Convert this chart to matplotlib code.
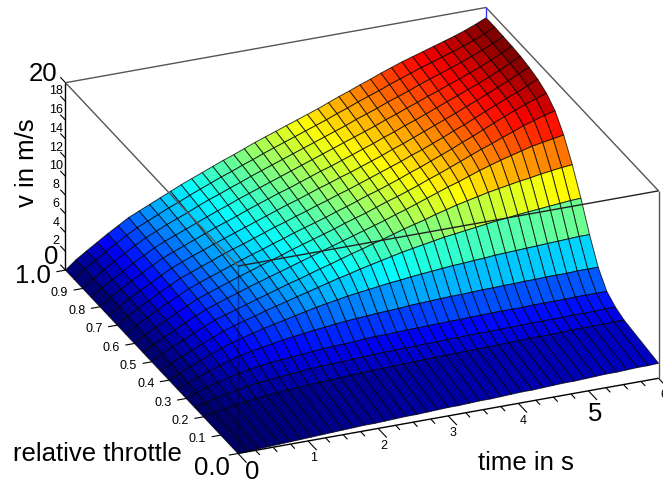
import numpy as np
from matplotlib import pyplot as plt
from matplotlib.colors import Normalize, LinearSegmentedColormap
from mpl_toolkits.mplot3d import proj3d

plt.rcParams['font.family'] = ['Liberation Sans', 'DejaVu Sans']

# data
time_s = [0, .15, .3, .45, .6, .75, .9, 1.05, 1.2, 1.35,
          1.5, 1.65, 1.8, 1.95, 2.1, 2.25, 2.4, 2.55, 2.7, 2.85,
          3, 3.15, 3.3, 3.45, 3.6, 3.75, 3.9, 4.05, 4.2, 4.35,
          4.5, 4.65, 4.8, 4.95, 5.1, 5.25, 5.4, 5.55, 5.7, 5.85, 6]
throttle = [0, .2, .25, .3, .35, .4, .45, .5, .55, .6, .65, .7, .75, .8, .85, .9, .95, 1]
speed = [
    [0, .05, .1, .15, .2, .25, .3, .35, .4, .45,
     .5, .55, .6, .6, .65, .7, .75, .75, .8, .85,
     .9, .9, .95, 1.0, 1.0, 1.05, 1.1, 1.15, 1.15, 1.2,
     1.25, 1.3, 1.3, 1.35, 1.4, 1.45, 1.45, 1.5, 1.55, 1.55, 1.6],
    [0, .25, .43, .63, .8, .93, 1.05, 1.15, 1.25, 1.3,
     1.4, 1.45, 1.5, 1.55, 1.6, 1.65, 1.7, 1.75, 1.8, 1.8,
     1.85, 1.9, 1.9, 1.95, 1.95, 2.0, 2.0, 2.05, 2.05, 2.1,
     2.1, 2.15, 2.15, 2.15, 2.2, 2.2, 2.25, 2.25, 2.25, 2.3, 2.3],
    [0, .3, .6, .85, 1.05, 1.27, 1.45, 1.55, 1.65, 1.75,
     1.85, 1.95, 2.0, 2.05, 2.1, 2.15, 2.2, 2.25, 2.3, 2.3,
     2.35, 2.35, 2.4, 2.4, 2.45, 2.45, 2.5, 2.5, 2.5, 2.55,
     2.55, 2.55, 2.6, 2.6, 2.6, 2.6, 2.65, 2.65, 2.65, 2.7, 2.7],
    [0, .4, .78, 1.1, 1.4, 1.65, 1.9, 2.05, 2.2, 2.3,
     2.4, 2.5, 2.6, 2.7, 2.75, 2.8, 2.85, 2.95, 3.0, 3.0,
     3.05, 3.1, 3.1, 3.15, 3.15, 3.2, 3.2, 3.25, 3.25, 3.3,
     3.3, 3.3, 3.3, 3.35, 3.35, 3.35, 3.35, 3.4, 3.4, 3.4, 3.4],
    [0, .5, .9, 1.3, 1.72, 2.08, 2.4, 2.65, 2.85, 3.05,
     3.25, 3.4, 3.55, 3.7, 3.8, 3.95, 4.05, 4.15, 4.2, 4.3,
     4.35, 4.4, 4.5, 4.55, 4.6, 4.65, 4.7, 4.7, 4.75, 4.8,
     4.8, 4.85, 4.85, 4.9, 4.9, 4.95, 4.95, 4.95, 5.0, 5.0, 5.0],
    [0, .53, 1.03, 1.48, 1.95, 2.38, 2.8, 3.1, 3.4, 3.7,
     3.95, 4.2, 4.45, 4.7, 4.95, 5.15, 5.35, 5.55, 5.7, 5.85,
     6.0, 6.15, 6.25, 6.4, 6.5, 6.6, 6.7, 6.8, 6.85, 6.95,
     7.0, 7.1, 7.15, 7.2, 7.25, 7.3, 7.35, 7.4, 7.45, 7.5, 7.5],
    [0, .6, 1.1, 1.6, 2.1, 2.57, 3.05, 3.4, 3.75, 4.05,
     4.4, 4.7, 5.0, 5.3, 5.6, 5.9, 6.2, 6.5, 6.75, 7.05,
     7.3, 7.55, 7.8, 8.05, 8.25, 8.45, 8.65, 8.85, 9.0, 9.15,
     9.3, 9.45, 9.6, 9.7, 9.85, 9.95, 10.05, 10.15, 10.25, 10.35, 10.4],
    [0, .64, 1.19, 1.7, 2.23, 2.76, 3.25, 3.6, 3.95, 4.3,
     4.65, 5.0, 5.35, 5.7, 6.0, 6.35, 6.7, 7.0, 7.35, 7.7,
     8.0, 8.35, 8.65, 9.0, 9.35, 9.65, 9.95, 10.3, 10.6, 10.9,
     11.15, 11.4, 11.65, 11.85, 12.05, 12.25, 12.4, 12.6, 12.75, 12.9, 13.0],
    [0, .68, 1.23, 1.78, 2.37, 2.91, 3.4, 3.8, 4.2, 4.55,
     4.95, 5.3, 5.65, 6.0, 6.35, 6.7, 7.05, 7.4, 7.75, 8.1,
     8.45, 8.8, 9.15, 9.5, 9.9, 10.25, 10.65, 11.05, 11.45, 11.85,
     12.2, 12.6, 13.0, 13.35, 13.7, 14.0, 14.3, 14.6, 14.8, 15.0, 15.2],
    [0, .71, 1.31, 1.87, 2.46, 3.0, 3.55, 3.95, 4.35, 4.75,
     5.15, 5.5, 5.9, 6.25, 6.6, 7.0, 7.35, 7.7, 8.05, 8.4,
     8.8, 9.15, 9.5, 9.9, 10.3, 10.65, 11.05, 11.45, 11.9, 12.3,
     12.75, 13.2, 13.65, 14.1, 14.5, 14.95, 15.35, 15.8, 16.15, 16.5, 16.8],
    [0, .75, 1.35, 1.96, 2.56, 3.1, 3.65, 4.1, 4.5, 4.9,
     5.3, 5.7, 6.1, 6.45, 6.85, 7.2, 7.6, 7.95, 8.3, 8.65,
     9.05, 9.4, 9.8, 10.2, 10.55, 10.95, 11.35, 11.8, 12.2, 12.65,
     13.1, 13.55, 14.05, 14.5, 15.0, 15.5, 16.0, 16.45, 16.9, 17.3, 17.7],
    [0, .75, 1.39, 2.0, 2.65, 3.2, 3.8, 4.2, 4.65, 5.05,
     5.5, 5.9, 6.25, 6.65, 7.05, 7.45, 7.8, 8.2, 8.55, 8.95,
     9.3, 9.7, 10.05, 10.45, 10.85, 11.25, 11.65, 12.05, 12.5, 12.9,
     13.35, 13.8, 14.3, 14.75, 15.25, 15.75, 16.25, 16.75, 17.2, 17.7, 18.2],
    [0, .79, 1.44, 2.09, 2.7, 3.3, 3.9, 4.35, 4.8, 5.2,
     5.65, 6.05, 6.45, 6.85, 7.25, 7.65, 8.05, 8.45, 8.8, 9.2,
     9.6, 9.95, 10.35, 10.7, 11.1, 11.5, 11.9, 12.35, 12.75, 13.2,
     13.65, 14.1, 14.55, 15.0, 15.5, 15.95, 16.45, 16.95, 17.45, 18.0, 18.5],
    [0, .83, 1.48, 2.13, 2.79, 3.4, 4.0, 4.45, 4.9, 5.35,
     5.8, 6.25, 6.65, 7.05, 7.5, 7.9, 8.3, 8.7, 9.05, 9.45,
     9.85, 10.25, 10.6, 11.0, 11.4, 11.8, 12.2, 12.65, 13.05, 13.5,
     13.9, 14.35, 14.8, 15.25, 15.7, 16.15, 16.6, 17.1, 17.6, 18.15, 18.7],
    [0, .83, 1.52, 2.18, 2.88, 3.49, 4.1, 4.6, 5.05, 5.5,
     5.95, 6.4, 6.85, 7.25, 7.7, 8.1, 8.5, 8.9, 9.3, 9.7,
     10.1, 10.5, 10.9, 11.3, 11.7, 12.1, 12.5, 12.9, 13.35, 13.75,
     14.2, 14.6, 15.05, 15.45, 15.9, 16.3, 16.75, 17.2, 17.7, 18.25, 18.8],
    [0, .86, 1.56, 2.26, 2.93, 3.59, 4.2, 4.7, 5.2, 5.65,
     6.1, 6.6, 7.05, 7.45, 7.9, 8.3, 8.75, 9.15, 9.55, 9.95,
     10.35, 10.75, 11.15, 11.55, 11.95, 12.35, 12.8, 13.2, 13.6, 14.05,
     14.45, 14.85, 15.3, 15.7, 16.1, 16.5, 16.9, 17.35, 17.8, 18.3, 18.85],
    [0, .9, 1.6, 2.31, 3.02, 3.69, 4.3, 4.8, 5.3, 5.8,
     6.25, 6.75, 7.2, 7.65, 8.1, 8.5, 8.95, 9.35, 9.8, 10.2,
     10.6, 11.0, 11.4, 11.8, 12.2, 12.65, 13.05, 13.5, 13.9, 14.3,
     14.75, 15.15, 15.55, 15.95, 16.3, 16.7, 17.05, 17.45, 17.85, 18.35, 18.9],
    [0, .9, 1.64, 2.35, 3.07, 3.73, 4.4, 4.9, 5.4, 5.9,
     6.4, 6.9, 7.35, 7.8, 8.25, 8.7, 9.1, 9.55, 10.0, 10.4,
     10.8, 11.2, 11.6, 12.0, 12.4, 12.85, 13.3, 13.7, 14.15, 14.55,
     15.0, 15.4, 15.8, 16.15, 16.5, 16.85, 17.2, 17.55, 17.95, 18.4, 18.9],
]
v_ticks = [2, 4, 6, 8, 10, 12, 14, 16, 18]
throttle_ticks = [.1, .2, .3, .4, .5, .6, .7, .8, .9]
time_ticks = [1, 2, 3, 4, 6]
time_minor = [0, .25, .5, .75, 1, 1.25, 1.5, 1.75, 2, 2.25, 2.5, 2.75, 3, 3.25, 3.5, 3.75,
              4, 4.25, 4.5, 4.75, 5, 5.25, 5.5, 5.75, 6]

W, H = 663, 483
fig = plt.figure(figsize=(W / 100, H / 100), dpi=100)
side = 800
# axes is bigger than the figure so nothing gets clipped, box center lands at (362, 252.5)
ax = fig.add_axes([(362 - .5135 * side) / W, (252.5 - .5135 * side) / H, side / W, side / H],
                  projection='3d', computed_zorder=False)
ax.set_proj_type('ortho')
ax.view_init(elev=25.85, azim=-112.3)
ax.set_box_aspect((454, 454, 208), zoom=656 / side)
ax.set_xlim(0, 6, view_margin=0)
ax.set_ylim(0, 1, view_margin=0)
ax.set_zlim(0, 20, view_margin=0)
ax.set_axis_off()

def line3(x, y, z, color='#555555', lw=1.0, zorder=1, alpha=1):
    ax.plot(x, y, z, color=color, lw=lw, zorder=zorder, alpha=alpha, solid_capstyle='butt')

def label3(x, y, z, s, size):
    # project by hand so the text stays a plain 2d text
    px, py, _ = proj3d.proj_transform(x, y, z, ax.get_proj())
    ax.text2D(px, py, s, transform=ax.transData, fontsize=size, ha='center', va='center')

# jet with a longer dark blue end
cmap = LinearSegmentedColormap.from_list('jet2', [(0, '#000060'), (.09, '#0000b0'), (.15, '#0000ff'),
                                                  (.375, '#00ffff'), (.625, '#ffff00'),
                                                  (.875, '#ff0000'), (1, '#800000')])

# surface
T, TH = np.meshgrid(time_s, throttle)
V = np.array(speed)
ax.plot_surface(T, TH, V, cmap=cmap, norm=Normalize(0, 18.5), rstride=1, cstride=1,
                edgecolor=(0, 0, 0, .75), linewidth=.7, antialiased=True, zorder=2)

# box, hidden edges are seen through the surface
line3([0, 6], [1, 1], [20, 20])
line3([6, 6], [1, 0], [20, 20])
line3([6, 6], [0, 0], [20, 0])
line3([0, 0], [1, 0], [20, 20], zorder=3)
line3([0, 6], [0, 0], [20, 20], color='#222222', zorder=3)
line3([0, 0], [0, 0], [20, 0], color='#000033', zorder=3, alpha=.45)
line3([6, 6], [1, 1], [20, 18.9], color='#3333ff', zorder=3)

# axes
line3([0, 0], [1, 1], [0, 20], color='k', zorder=3)
line3([0, 6], [0, 0], [0, 0], color='k', zorder=1)

for v in [0] + v_ticks + [20]:
    line3([0, 0], [1, 1.03], [v, v], color='k', lw=.8, zorder=3)
for th in [0] + throttle_ticks + [1]:
    line3([0, -.13], [th, th], [0, 0], color='k', lw=.8, zorder=3)
for tm in time_minor:
    length = .05 if tm == int(tm) else .025
    line3([tm, tm], [0, -length], [0, 0], color='k', lw=.8, zorder=1)

small = 9
big = 18.5
for v in v_ticks:
    label3(0, 1.055, v, str(v), small)
for th in throttle_ticks:
    label3(-.33, th, 0, '%.1f' % th, small)
for tm in time_ticks:
    label3(tm, -.03, -1.25, str(tm), small)

# larger labels at the ends of the axes
label3(0, 1.128, 18.4, '20', big)
label3(0, 1.08, -.2, '0', big)
label3(-.46, 1, 0, '1.0', big)
label3(-.37, 0, -1, '0.0', big)
label3(.2, 0, -2.2, '0', big)
label3(5, -.04, -1.7, '5', big)

fig.text(27 / W, 1 - 163 / H, 'v in m/s', fontsize=big, rotation=90, ha='center', va='center')
fig.text(97 / W, 1 - 454 / H, 'relative throttle', fontsize=big, ha='center', va='center')
fig.text(526 / W, 1 - 463 / H, 'time in s', fontsize=big, ha='center', va='center')

plt.savefig('out.png', dpi=100)
